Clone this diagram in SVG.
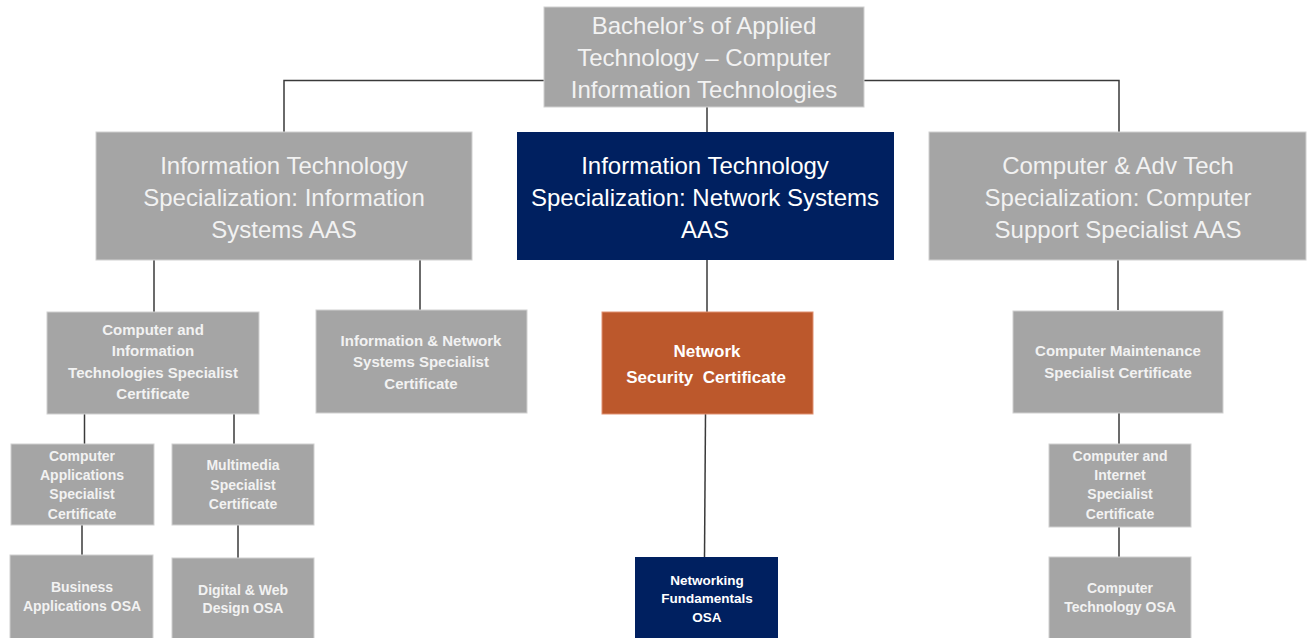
<svg xmlns="http://www.w3.org/2000/svg" width="1307" height="638" viewBox="0 0 1307 638">
<style>
.g{fill:#a5a5a5;stroke:#d0d0d0;stroke-width:1}
.n{fill:#002060}
.o{fill:#bc582c;stroke:#e09070;stroke-width:1}
.t{font-family:"Liberation Sans",Arial,sans-serif;text-anchor:middle;fill:#f2f2f2}
.big{font-size:24px}
.b{font-weight:bold;font-size:14px}
.m{font-size:15px}
.w{fill:#ffffff}
.c line,.c polyline{stroke:#3a3a3a;stroke-width:1.5;fill:none}
</style>
<rect width="1307" height="638" fill="#ffffff"/>
<g class="c" id="connectors">
<polyline points="544,80.5 284,80.5 284,132"/>
<polyline points="864,80.5 1119,80.5 1119,132"/>
<line x1="707" y1="107" x2="707" y2="132"/>
<line x1="154" y1="260" x2="154" y2="312"/>
<line x1="420" y1="260" x2="420" y2="310"/>
<line x1="707" y1="260" x2="707" y2="312"/>
<line x1="1118" y1="260" x2="1118" y2="310"/>
<line x1="84.5" y1="414" x2="84.5" y2="444"/>
<line x1="234" y1="414" x2="234" y2="444"/>
<line x1="82" y1="525" x2="82" y2="555"/>
<line x1="238" y1="525" x2="238" y2="558"/>
<line x1="705.5" y1="414" x2="704.5" y2="557"/>
<line x1="1119" y1="413" x2="1119" y2="444"/>
<line x1="1119" y1="527" x2="1119" y2="557"/>
</g>
<g id="root">
<rect class="g" x="544" y="7" width="320" height="100"/>
<text class="t big"><tspan x="704" y="34">Bachelor’s of Applied</tspan><tspan x="704" y="66">Technology – Computer</tspan><tspan x="704" y="98">Information Technologies</tspan></text>
</g>
<g id="it-is">
<rect class="g" x="96" y="132" width="376" height="128"/>
<text class="t big"><tspan x="284" y="174">Information Technology</tspan><tspan x="284" y="206">Specialization: Information</tspan><tspan x="284" y="238">Systems AAS</tspan></text>
</g>
<g id="it-ns">
<rect class="n" x="517" y="132" width="377" height="128"/>
<text class="t big w"><tspan x="705" y="174">Information Technology</tspan><tspan x="705" y="206">Specialization: Network Systems</tspan><tspan x="705" y="238">AAS</tspan></text>
</g>
<g id="cat-css">
<rect class="g" x="929" y="132" width="377" height="128"/>
<text class="t big"><tspan x="1118" y="174">Computer &amp; Adv Tech</tspan><tspan x="1118" y="206">Specialization: Computer</tspan><tspan x="1118" y="238">Support Specialist AAS</tspan></text>
</g>
<g id="cit-cert">
<rect class="g" x="47" y="312" width="212" height="102"/>
<text class="t b m"><tspan x="153" y="335">Computer and</tspan><tspan x="153" y="356">Information</tspan><tspan x="153" y="378">Technologies Specialist</tspan><tspan x="153" y="399">Certificate</tspan></text>
</g>
<g id="ins-cert">
<rect class="g" x="316" y="310" width="211" height="103"/>
<text class="t b m"><tspan x="421" y="346">Information &amp; Network</tspan><tspan x="421" y="367">Systems Specialist</tspan><tspan x="421" y="389">Certificate</tspan></text>
</g>
<g id="netsec-cert">
<rect class="o" x="602" y="312" width="211" height="102"/>
<text class="t b w" style="font-size:17px;white-space:pre" xml:space="preserve"><tspan x="707" y="357">Network</tspan><tspan x="706" y="383">Security  Certificate</tspan></text>
</g>
<g id="cm-cert">
<rect class="g" x="1013" y="311" width="210" height="102"/>
<text class="t b m"><tspan x="1118" y="356">Computer Maintenance</tspan><tspan x="1118" y="378">Specialist Certificate</tspan></text>
</g>
<g id="ca-cert">
<rect class="g" x="11" y="444" width="143" height="81"/>
<text class="t b"><tspan x="82" y="461">Computer</tspan><tspan x="82" y="480">Applications</tspan><tspan x="82" y="499">Specialist</tspan><tspan x="82" y="519">Certificate</tspan></text>
</g>
<g id="mm-cert">
<rect class="g" x="172" y="444" width="142" height="81"/>
<text class="t b"><tspan x="243" y="470">Multimedia</tspan><tspan x="243" y="490">Specialist</tspan><tspan x="243" y="509">Certificate</tspan></text>
</g>
<g id="ci-cert">
<rect class="g" x="1049" y="444" width="142" height="83"/>
<text class="t b"><tspan x="1120" y="461">Computer and</tspan><tspan x="1120" y="480">Internet</tspan><tspan x="1120" y="499">Specialist</tspan><tspan x="1120" y="519">Certificate</tspan></text>
</g>
<g id="ba-osa">
<rect class="g" x="10" y="555" width="143" height="84"/>
<text class="t b"><tspan x="82" y="592">Business</tspan><tspan x="82" y="611">Applications OSA</tspan></text>
</g>
<g id="dw-osa">
<rect class="g" x="172" y="558" width="142" height="81"/>
<text class="t b"><tspan x="243" y="595">Digital &amp; Web</tspan><tspan x="243" y="613">Design OSA</tspan></text>
</g>
<g id="nf-osa">
<rect class="n" x="635" y="557" width="143" height="82"/>
<text class="t b w" style="font-size:13.5px"><tspan x="707" y="585">Networking</tspan><tspan x="707" y="603">Fundamentals</tspan><tspan x="707" y="622">OSA</tspan></text>
</g>
<g id="ct-osa">
<rect class="g" x="1049" y="557" width="142" height="82"/>
<text class="t b"><tspan x="1120" y="593">Computer</tspan><tspan x="1120" y="612">Technology OSA</tspan></text>
</g>
</svg>
